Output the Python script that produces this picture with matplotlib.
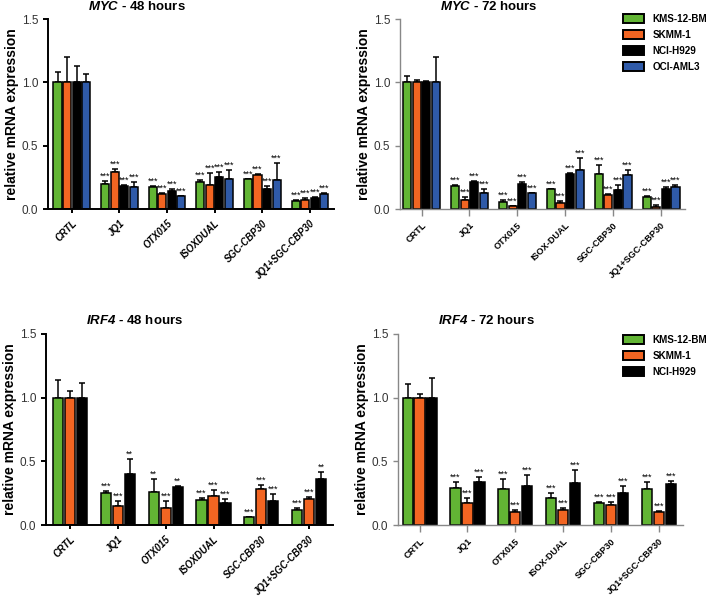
import numpy as np
import matplotlib
matplotlib.use("Agg")
import matplotlib.pyplot as plt
from matplotlib.patches import Patch

plt.rcParams["font.family"] = ["Liberation Sans", "DejaVu Sans"]
plt.rcParams["mathtext.fontset"] = "custom"
plt.rcParams["mathtext.rm"] = "Liberation Sans"
plt.rcParams["mathtext.it"] = "Liberation Sans:italic"
plt.rcParams["mathtext.bf"] = "Liberation Sans:bold"
plt.rcParams["mathtext.bfit"] = "Liberation Sans:italic:bold"

# colours per cell line
C_GREEN = "#62b534"
C_ORANGE = "#f26522"
C_BLACK = "#000000"
C_BLUE = "#2f5aa8"

lines4 = ["KMS-12-BM", "SKMM-1", "NCI-H929", "OCI-AML3"]
lines3 = ["KMS-12-BM", "SKMM-1", "NCI-H929"]
groups_48 = ["CRTL", "JQ1", "OTX015", "ISOXDUAL", "SGC-CBP30", "JQ1+SGC-CBP30"]
groups_72 = ["CRTL", "JQ1", "OTX015", "ISOX-DUAL", "SGC-CBP30", "JQ1+SGC-CBP30"]

# MYC 48 h
myc48_mean = [
    [1.0, 0.195, 0.175, 0.21, 0.235, 0.06],
    [1.0, 0.29, 0.115, 0.19, 0.27, 0.075],
    [1.0, 0.185, 0.14, 0.255, 0.16, 0.09],
    [1.0, 0.17, 0.10, 0.24, 0.23, 0.12],
]
myc48_sd = [
    [0.079, 0.025, 0.005, 0.02, 0.0, 0.01],
    [0.197, 0.025, 0.01, 0.095, 0.005, 0.015],
    [0.13, 0.005, 0.02, 0.035, 0.025, 0.005],
    [0.066, 0.04, 0.005, 0.07, 0.135, 0.01],
]
myc48_sig = [["", "***", "***", "***", "***", "***"]] * 4

# MYC 72 h
myc72_mean = [
    [1.0, 0.18, 0.055, 0.155, 0.28, 0.095],
    [1.0, 0.07, 0.02, 0.05, 0.11, 0.015],
    [1.0, 0.215, 0.20, 0.275, 0.15, 0.16],
    [1.0, 0.13, 0.125, 0.31, 0.27, 0.17],
]
myc72_sd = [
    [0.05, 0.01, 0.015, 0.005, 0.065, 0.01],
    [0.015, 0.025, 0.005, 0.015, 0.005, 0.015],
    [0.01, 0.005, 0.01, 0.01, 0.04, 0.015],
    [0.2, 0.03, 0.005, 0.09, 0.04, 0.02],
]
myc72_sig = [["", "***", "***", "***", "***", "***"]] * 4

# IRF4 48 h
irf48_mean = [
    [1.0, 0.25, 0.26, 0.20, 0.06, 0.12],
    [1.0, 0.15, 0.135, 0.225, 0.28, 0.205],
    [1.0, 0.40, 0.30, 0.17, 0.19, 0.365],
]
irf48_sd = [
    [0.14, 0.015, 0.105, 0.01, 0.005, 0.01],
    [0.05, 0.04, 0.055, 0.05, 0.035, 0.015],
    [0.115, 0.12, 0.005, 0.035, 0.05, 0.055],
]
irf48_sig = [
    ["", "***", "**", "***", "***", "***"],
    ["", "***", "***", "***", "***", "***"],
    ["", "**", "**", "***", "***", "**"],
]

# IRF4 72 h
irf72_mean = [
    [1.0, 0.29, 0.28, 0.215, 0.175, 0.285],
    [1.0, 0.17, 0.105, 0.115, 0.16, 0.105],
    [1.0, 0.34, 0.31, 0.33, 0.255, 0.32],
]
irf72_sd = [
    [0.11, 0.05, 0.085, 0.035, 0.005, 0.055],
    [0.03, 0.045, 0.015, 0.015, 0.02, 0.005],
    [0.155, 0.04, 0.08, 0.105, 0.05, 0.025],
]
irf72_sig = [["", "***", "***", "***", "***", "***"]] * 3

COLORS = [C_GREEN, C_ORANGE, C_BLACK, C_BLUE]


def panel(ax, gene, hours, groups, means, sds, sigs, left_style):
    n = len(means)
    step = 0.2 if n == 4 else 0.25
    width = step * 0.85
    x = np.arange(len(groups))
    spine_c = "#000000" if left_style else "#888888"
    for i in range(n):
        xs = x + (i - (n - 1) / 2) * step
        m = np.array(means[i])
        s = np.array(sds[i])
        ax.bar(xs, m, width, color=COLORS[i], edgecolor="black", linewidth=1.1, zorder=2)
        ax.errorbar(xs, m, yerr=[np.zeros_like(s), s], fmt="none", ecolor="black",
                    elinewidth=1.1, capsize=2.2, capthick=1.1, zorder=1)
        for xi, top, lab in zip(xs, m + s, sigs[i]):
            if lab:
                ax.text(xi, top + 0.002, lab, ha="center", va="bottom", fontsize=6.6, zorder=3)
    ax.set_ylim(0, 1.5)
    ax.set_xlim(-0.5 if left_style else -0.45, 5.5)
    ax.set_yticks([0, 0.5, 1.0, 1.5])
    ax.set_yticklabels(["0.0", "0.5", "1.0", "1.5"], fontsize=8.5, color="#333333")
    ax.set_xticks(x)
    ax.set_xticklabels(groups, rotation=45, ha="right", rotation_mode="anchor",
                       fontsize=6.9 if left_style else 6.6, fontweight="bold",
                       style="italic" if left_style else "normal")
    ax.spines["top"].set_visible(False)
    ax.spines["right"].set_visible(False)
    lw = 1.4 if left_style else 1.0
    for sp in ("left", "bottom"):
        ax.spines[sp].set_color(spine_c)
        ax.spines[sp].set_linewidth(lw)
    ax.tick_params(axis="y", colors=spine_c, width=lw, length=3.5, labelcolor="#333333")
    ax.tick_params(axis="x", colors=spine_c, width=lw, length=3 if left_style else 5,
                   labelcolor="black")
    ax.set_ylabel("relative mRNA expression", fontsize=10, fontweight="bold", labelpad=2)
    ax.text(0.31, 1 + 13 / 190, f"$\\mathbfit{{{gene}}}$ - {hours} hours", transform=ax.transAxes,
            ha="center", va="center", fontsize=9.5, fontweight="bold")


fig = plt.figure(figsize=(7.09, 5.96), dpi=100)
ax1 = fig.add_axes([0.0677, 0.6493, 0.403, 0.3188])
ax2 = fig.add_axes([0.5642, 0.6493, 0.402, 0.3188])
ax3 = fig.add_axes([0.0649, 0.1191, 0.405, 0.3205])
ax4 = fig.add_axes([0.5614, 0.1191, 0.402, 0.3205])

panel(ax1, "MYC", 48, groups_48, myc48_mean, myc48_sd, myc48_sig, True)
panel(ax2, "MYC", 72, groups_72, myc72_mean, myc72_sd, myc72_sig, False)
panel(ax3, "IRF4", 48, groups_48, irf48_mean, irf48_sd, irf48_sig, True)
panel(ax4, "IRF4", 72, groups_72, irf72_mean, irf72_sd, irf72_sig, False)


def legend(names, top_px):
    handles = [Patch(facecolor=COLORS[i], edgecolor="black", linewidth=1.4, label=nm)
               for i, nm in enumerate(names)]
    fig.legend(handles=handles, loc="upper left",
               bbox_to_anchor=(619 / 709, 1 - top_px / 596), bbox_transform=fig.transFigure,
               frameon=False, prop={"weight": "bold", "size": 7.1},
               handlelength=2.1, handleheight=1.05, labelspacing=0.62, handletextpad=0.9,
               borderaxespad=0)


legend(lines4, 10)
legend(lines3, 331)

fig.savefig("out.png", dpi=100)
